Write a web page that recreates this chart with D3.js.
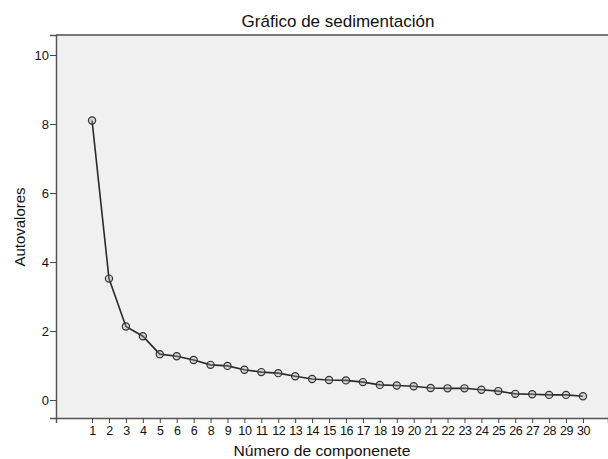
<!DOCTYPE html>
<html><head><meta charset="utf-8">
<script src="https://cdn.jsdelivr.net/npm/d3@7"></script>
<style>body{margin:0;background:#fff;}svg{display:block;font-family:"Liberation Sans",Arial,sans-serif;}</style>
</head><body>
<script>
const components = d3.range(1, 31);
const eigenvalues = [8.10,3.52,2.13,1.85,1.33,1.27,1.16,1.02,0.99,0.88,0.81,0.78,0.69,0.61,0.58,0.57,0.52,0.44,0.42,0.40,0.35,0.34,0.34,0.30,0.26,0.18,0.17,0.15,0.15,0.11];
const xTickLabels = ["1","2","3","4","5","6","6","8","9","10","11","12","13","14","15","16","17","18","19","20","21","22","23","24","25","26","27","28","29","30"];
const yTicks = [0,2,4,6,8,10];

const W = 608, H = 459;
const L = 56, R = 608, T = 35, B = 418;
const svg = d3.select("body").append("svg").attr("width", W).attr("height", H);

const x = d3.scaleLinear().domain([-1.13, 31.48]).range([L, R]);
const y = d3.scaleLinear().domain([-0.52, 10.58]).range([B, T]);

svg.append("rect").attr("x", L).attr("y", T).attr("width", R - L).attr("height", B - T)
  .attr("fill", "#f0f0f0");
svg.append("line").attr("x1", L).attr("x2", R).attr("y1", T).attr("y2", T)
  .attr("stroke", "#777").attr("stroke-width", 2);

const yAxis = svg.append("g").attr("transform", `translate(${L},0)`)
  .call(d3.axisLeft(y).tickValues(yTicks).tickSize(6).tickPadding(1).tickFormat(d3.format("d")));
yAxis.select(".domain").attr("stroke", "#555").attr("stroke-width", 1.5);
yAxis.selectAll(".tick line").attr("stroke", "#444");
yAxis.selectAll("text").attr("font-size", 13).attr("fill", "#111");

const xAxis = svg.append("g").attr("transform", `translate(0,${B})`)
  .call(d3.axisBottom(x).tickValues(components).tickSize(5).tickPadding(3)
    .tickFormat((d, i) => xTickLabels[i]));
xAxis.select(".domain").attr("stroke", "#555").attr("stroke-width", 1.5);
xAxis.selectAll(".tick line").attr("stroke", "#444");
xAxis.selectAll("text").attr("font-size", 12.5).attr("fill", "#111").attr("letter-spacing", "-0.4");

const pts = components.map((c, i) => [c, eigenvalues[i]]);
svg.append("path").datum(pts)
  .attr("d", d3.line().x(d => x(d[0])).y(d => y(d[1])))
  .attr("fill", "none").attr("stroke", "#2a2a2a").attr("stroke-width", 1.6);
svg.append("g").selectAll("circle").data(pts).join("circle")
  .attr("cx", d => x(d[0])).attr("cy", d => y(d[1])).attr("r", 3.6)
  .attr("fill", "rgba(160,160,160,0.35)").attr("stroke", "#333").attr("stroke-width", 1.2);

svg.append("text").attr("x", 338).attr("y", 27).attr("text-anchor", "middle")
  .attr("font-size", 17).attr("fill", "#111").text("Gráfico de sedimentación");
svg.append("text").attr("transform", "translate(322,456) scale(1.12,1)").attr("text-anchor", "middle")
  .attr("font-size", 14).attr("fill", "#111").text("Número de componenete");
svg.append("text").attr("transform", "translate(25,227) rotate(-90)").attr("text-anchor", "middle")
  .attr("font-size", 15).attr("fill", "#111").text("Autovalores");
</script>
</body></html>
